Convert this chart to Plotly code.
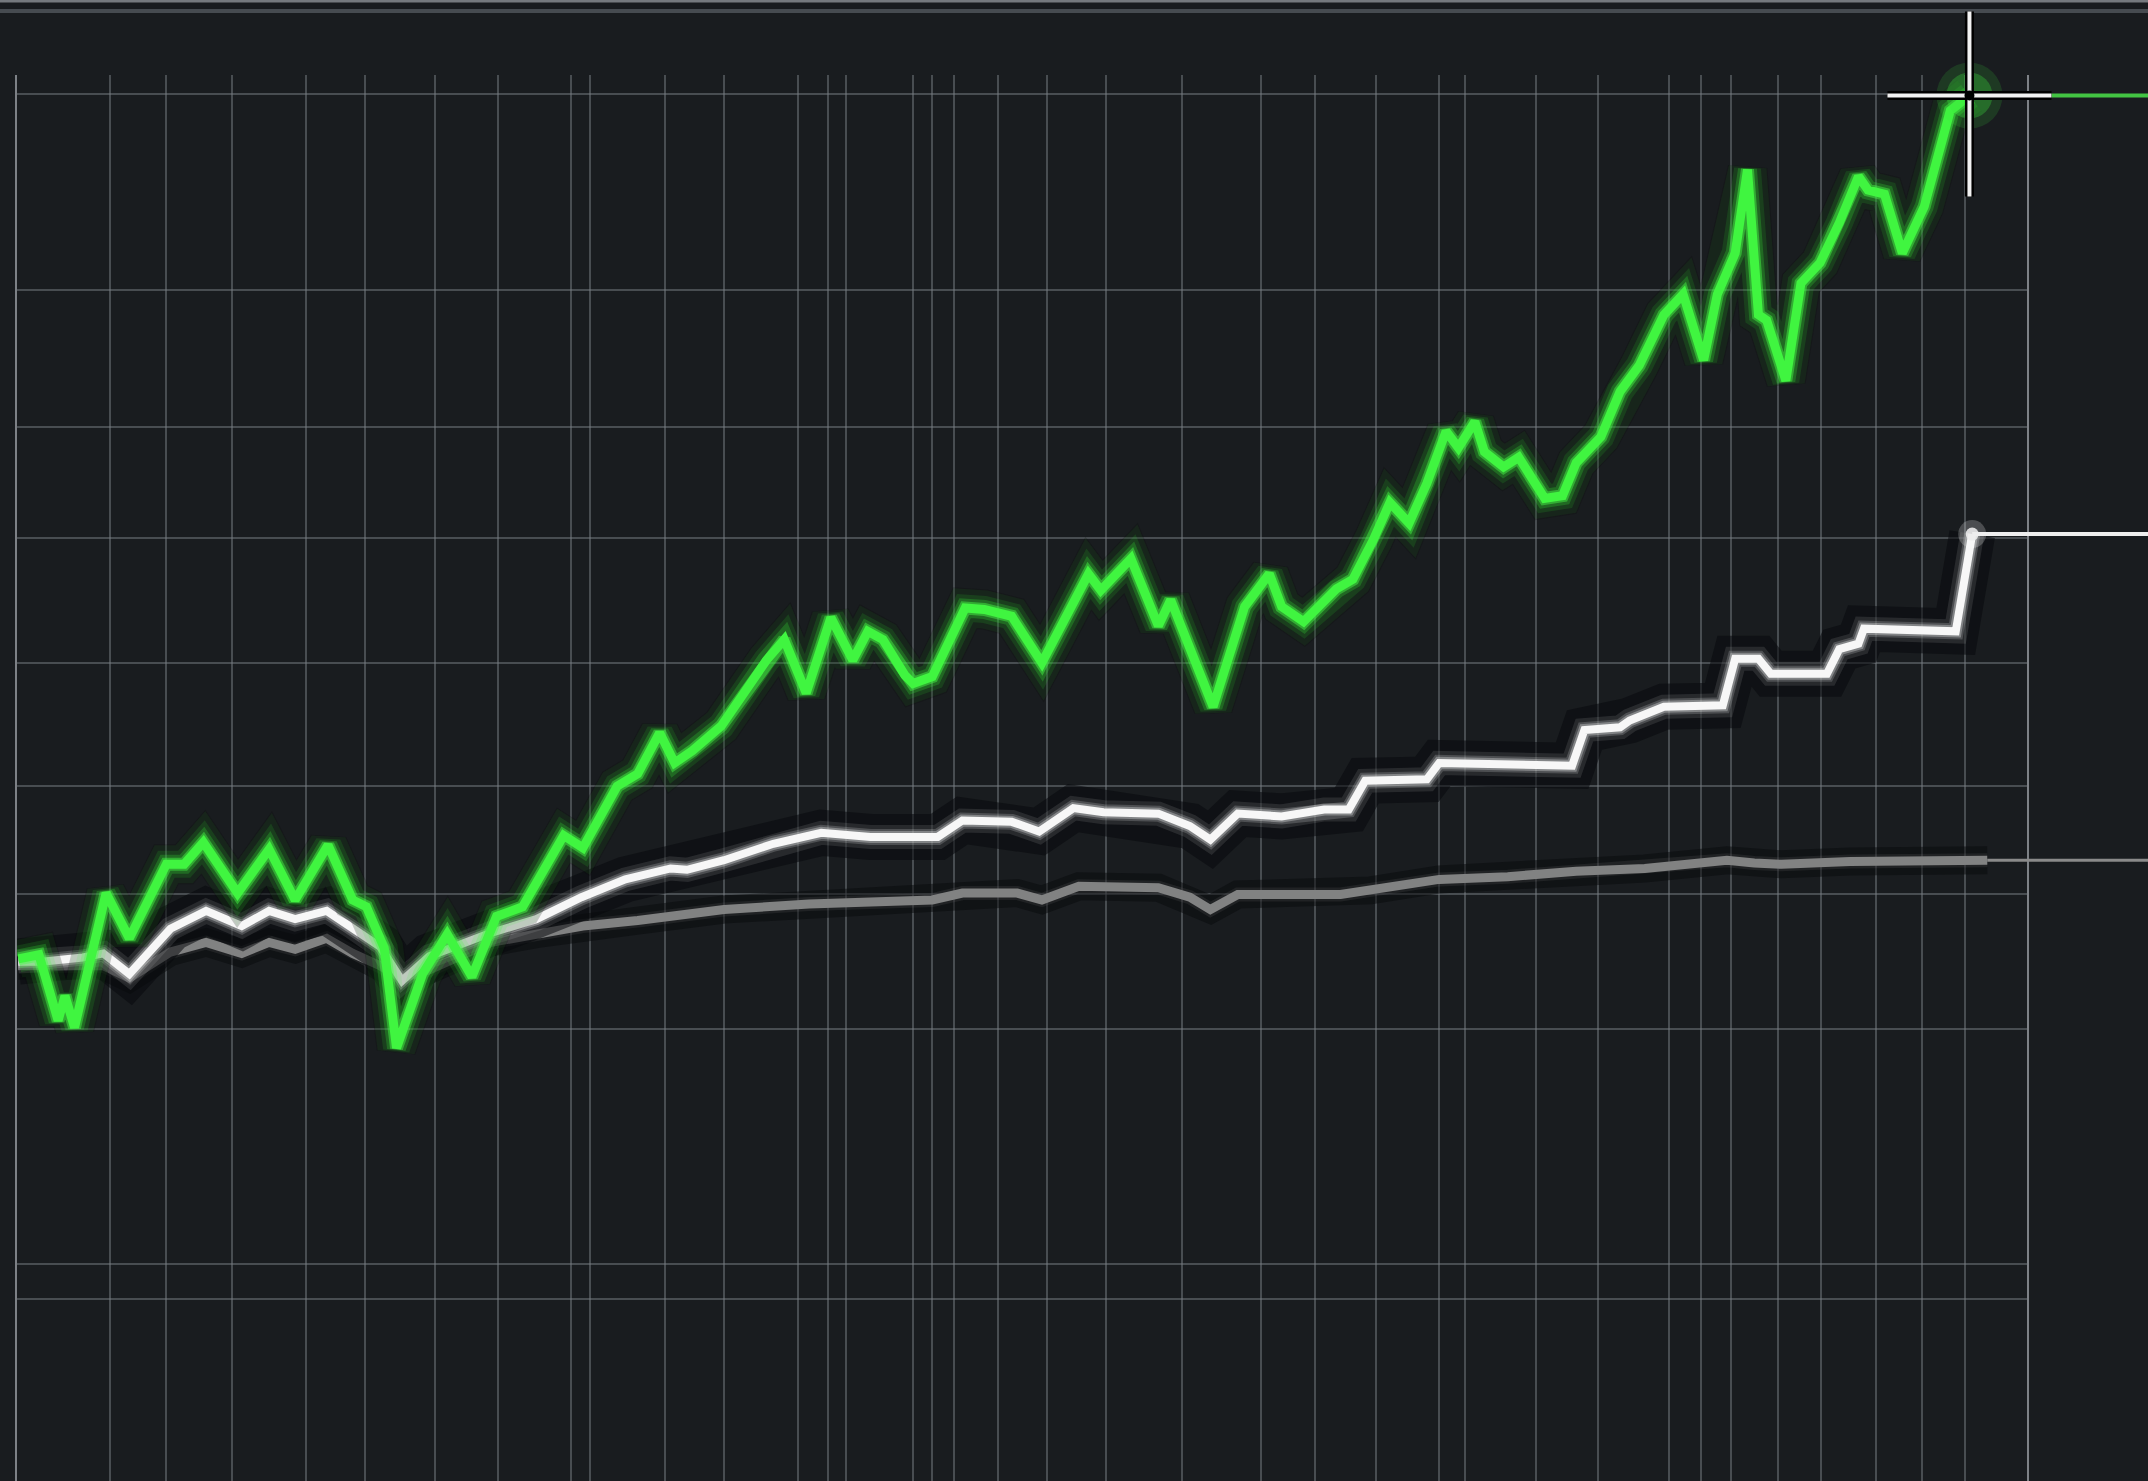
import plotly.graph_objects as go

# ---------------- data (arbitrary units) ----------------
# x = trading-day index, y = cumulative return (%)
green_t = [1, 16, 30, 35, 42, 65, 82, 109, 122, 136, 161, 184, 203, 227, 245, 255, 268, 277,
           296, 314, 332, 350, 369, 399, 413, 438, 453, 469, 480, 493, 514, 547, 560, 576,
           594, 610, 621, 632, 648, 654, 668, 692, 706, 726, 748, 782, 791, 813, 833, 842,
           873, 896, 914, 923, 939, 963, 975, 990, 1002, 1016, 1029, 1043, 1052, 1064, 1071,
           1085, 1096, 1115, 1128, 1138, 1156, 1170, 1184, 1202, 1216, 1231, 1241, 1254,
           1263, 1271, 1277, 1291, 1302, 1316, 1330, 1344, 1351, 1363, 1376, 1392, 1411, 1425]
green_v = [-0.6, 0, -9.6, -6, -10.6, 9, 2.4, 13.2, 13.2, 16.4, 9, 15.4, 8, 16, 8, 7, 1, -13.6,
           -2.8, 3, -3.2, 5.6, 7, 17.4, 15.6, 24.6, 26.4, 32.4, 28, 29.8, 33.4, 43, 46, 38.2,
           49.2, 43, 47.2, 46, 40.8, 39.6, 40.6, 50.6, 50.4, 49.4, 42.6, 55.6, 53.2, 57.8, 48, 51.8,
           36.2, 50.8, 55.6, 50.8, 48.6, 53.4, 54.8, 60.6, 66, 63, 68.8, 76.4, 74, 77.8, 73.4,
           71.2, 72.6, 66.6, 67, 71.8, 75.6, 82.2, 86, 93.4, 96.4, 86.8, 96.4, 102.4,
           114.6, 93.4, 92.6, 83.8, 98, 101, 106.8, 113.6, 111.6, 111, 102.4, 109.2, 123.2, 125.4]

white_t = [1, 18, 48, 63, 82, 112, 138, 164, 184, 203, 226, 245, 265, 281, 301, 346, 379, 412,
           444, 477, 489, 516, 552, 587, 623, 672, 690, 726, 746, 771, 793, 833, 856, 871, 891,
           923, 954, 972, 984, 1029, 1038, 1135, 1144, 1170, 1177, 1202, 1245, 1254, 1271, 1280,
           1321, 1330, 1344, 1348, 1415, 1427]
white_v = [-1, -1, -0.4, 0.2, -2.8, 3.8, 6.4, 4.2, 6.4, 5.2, 6.4, 4, 1.2, -3.8, -0.2, 3.2, 5.2, 8.4,
           11, 12.6, 12.4, 13.8, 16.2, 17.8, 17.2, 17.2, 19.6, 19.4, 18, 21.4, 20.8, 20.6, 18.8, 16.8, 20.6,
           20.2, 21.2, 21.2, 25.4, 25.6, 28, 27.6, 32.8, 33.2, 34.2, 36.2, 36.4, 43.2, 43.2, 41,
           41, 44.6, 45.4, 47.6, 47.2, 61.4]

gray_t = [1, 63, 82, 112, 138, 164, 184, 203, 226, 245, 265, 281, 301, 346, 379, 413, 453, 516,
          578, 668, 690, 730, 748, 775, 833, 856, 871, 891, 966, 988, 1038, 1088, 1138, 1188,
          1248, 1268, 1288, 1338, 1388, 1438]
gray_v = [-1.6, -1.6, -3.4, 0.4, 1.8, 0.2, 1.8, 0.8, 2.4, 0.2, -1.6, -3.4, -2.2, 1.8, 3, 4.2, 5, 6.6,
          7.4, 8, 9, 9, 8, 10, 9.8, 8.4, 6.6, 8.8, 8.8, 9.4, 11, 11.4, 12.2, 12.6,
          13.8, 13.4, 13.2, 13.6, 13.8, 13.8]

# grid positions
x_grid = [0, 68, 109, 157, 211, 254, 305, 351, 404, 418, 473, 516, 570, 592, 605, 654, 668, 684,
          716, 752, 795, 850, 908, 947, 992, 1038, 1057, 1109, 1154, 1206, 1229, 1251, 1285,
          1317, 1357, 1390, 1422, 1467]
y_grid = [125.6, 97, 77, 60.8, 42.6, 24.6, 8.8, -10.8, -45.2, -50.2]

X_RANGE = [0, 1467]
Y_RANGE = [-76.8, 128.4]

W, H = 2148, 1481
ML, MR, MT, MB = 17, 121, 75, 0
PW, PH = W - ML - MR, H - MT - MB

BG = "#191c1f"
GRID = "rgba(120,126,131,0.5)"
GREEN = "#40f540"

fig = go.Figure()


def add_line(t, v, layers):
    for width, color in layers:
        fig.add_trace(go.Scatter(x=t, y=v, mode="lines",
                                 line=dict(color=color, width=width, shape="linear"),
                                 hoverinfo="skip", showlegend=False))


# gray series
add_line(gray_t, gray_v, [(28, "rgba(8,10,12,0.5)"), (14, "rgba(150,150,150,0.12)"),
                          (9, "#818282")])
# white series
add_line(white_t, white_v, [(46, "rgba(8,10,12,0.55)"), (24, "rgba(255,255,255,0.10)"),
                            (16, "rgba(255,255,255,0.18)"), (12, "rgba(255,255,255,0.3)"),
                            (8, "#f7f7f7")])
# green series
add_line(green_t, green_v, [(40, "rgba(8,10,12,0.2)"), (38, "rgba(50,255,50,0.06)"),
                            (27, "rgba(50,255,50,0.12)"), (19, "rgba(60,255,60,0.22)"),
                            (13, "rgba(70,255,70,0.45)"), (9, GREEN)])

# end-point glows
fig.add_trace(go.Scatter(x=[white_t[-1]], y=[white_v[-1]], mode="markers",
                         marker=dict(size=28, color="rgba(255,255,255,0.22)", line=dict(width=0)),
                         hoverinfo="skip", showlegend=False, cliponaxis=False))
fig.add_trace(go.Scatter(x=[white_t[-1]], y=[white_v[-1]], mode="markers",
                         marker=dict(size=13, color="rgba(235,235,235,0.9)", line=dict(width=0)),
                         hoverinfo="skip", showlegend=False, cliponaxis=False))
fig.add_trace(go.Scatter(x=[green_t[-1]], y=[green_v[-1]], mode="markers",
                         marker=dict(size=66, color="rgba(60,230,60,0.15)", line=dict(width=0)),
                         hoverinfo="skip", showlegend=False, cliponaxis=False))
fig.add_trace(go.Scatter(x=[green_t[-1]], y=[green_v[-1]], mode="markers",
                         marker=dict(size=46, color="rgba(60,230,60,0.3)", line=dict(width=0)),
                         hoverinfo="skip", showlegend=False, cliponaxis=False))


def px(t):
    return (t - X_RANGE[0]) / (X_RANGE[1] - X_RANGE[0])


def py(v):
    return (v - Y_RANGE[0]) / (Y_RANGE[1] - Y_RANGE[0])


RIGHT_EDGE = (W - ML) / PW
shapes = []

# top border strips
for yy, col, wd in [(1, "rgba(140,145,150,0.8)", 3), (11, "rgba(70,75,80,1)", 4)]:
    shapes.append(dict(type="line", xref="paper", yref="paper",
                       x0=-ML / PW, x1=RIGHT_EDGE, y0=(H - yy) / PH, y1=(H - yy) / PH,
                       line=dict(color=col, width=wd), layer="below"))

# level extensions to the right edge
arm = 82 / PW
cx, cy = px(green_t[-1]), py(green_v[-1])
shapes.append(dict(type="line", xref="paper", yref="y", x0=cx + arm, x1=RIGHT_EDGE,
                   y0=green_v[-1], y1=green_v[-1], line=dict(color="rgba(70,205,70,0.95)", width=4)))
shapes.append(dict(type="line", xref="paper", yref="y", x0=px(white_t[-1]), x1=RIGHT_EDGE,
                   y0=white_v[-1], y1=white_v[-1], line=dict(color="#eeeeee", width=4)))
shapes.append(dict(type="line", xref="paper", yref="y", x0=px(gray_t[-1]), x1=RIGHT_EDGE,
                   y0=gray_v[-1], y1=gray_v[-1], line=dict(color="#8a8a8a", width=3)))

# crosshair
up, down = 84 / PH, 101 / PH
for col, wd in [("#000000", 9), ("#f2f2f2", 4)]:
    shapes.append(dict(type="line", xref="paper", yref="paper", x0=cx - arm, x1=cx + arm,
                       y0=cy, y1=cy, line=dict(color=col, width=wd)))
    shapes.append(dict(type="line", xref="paper", yref="paper", x0=cx, x1=cx,
                       y0=cy - down, y1=cy + up, line=dict(color=col, width=wd)))
r = 5
shapes.append(dict(type="circle", xref="paper", yref="paper",
                   x0=cx - r / PW, x1=cx + r / PW, y0=cy - r / PH, y1=cy + r / PH,
                   fillcolor="#000000", line=dict(width=0)))

fig.update_layout(
    width=W, height=H,
    margin=dict(l=ML, r=MR, t=MT, b=MB, pad=0),
    paper_bgcolor=BG, plot_bgcolor=BG,
    showlegend=False,
    shapes=shapes,
    xaxis=dict(range=X_RANGE, tickmode="array", tickvals=x_grid, showticklabels=False,
               ticks="", showgrid=True, gridcolor=GRID, gridwidth=2, zeroline=False,
               showline=False, fixedrange=True),
    yaxis=dict(range=Y_RANGE, tickmode="array", tickvals=y_grid, showticklabels=False,
               ticks="", showgrid=True, gridcolor=GRID, gridwidth=2, zeroline=False,
               showline=True, mirror=True, linecolor="rgba(150,155,160,0.8)", linewidth=2,
               fixedrange=True),
    hovermode=False,
)

fig.write_html(
    "out.html",
    config={"displayModeBar": False},
    post_script="document.body.style.margin='0';document.body.style.overflow='hidden';"
                "document.body.style.background='#191c1f';",
)
